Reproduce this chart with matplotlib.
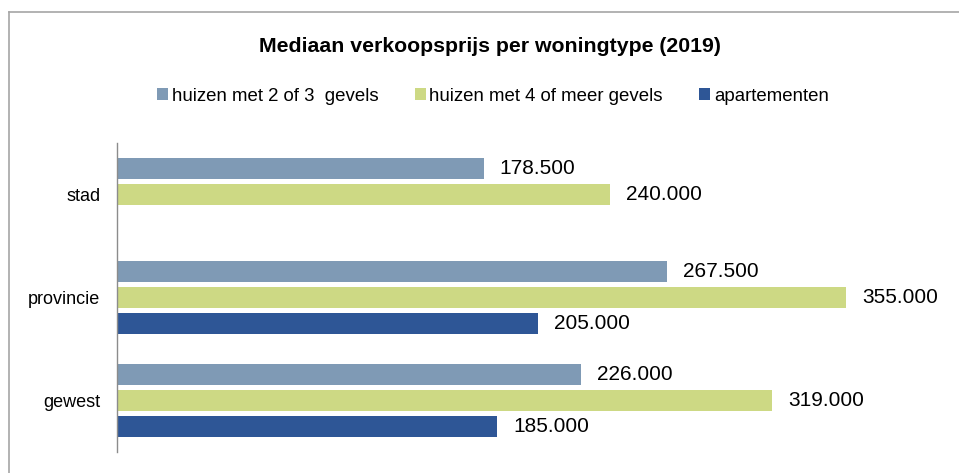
import numpy as np
import matplotlib
matplotlib.use('Agg')
import matplotlib.pyplot as plt
from matplotlib.lines import Line2D
from matplotlib.patches import Patch

plt.rcParams['font.family'] = ['Liberation Sans', 'DejaVu Sans']

regions = ['stad', 'provincie', 'gewest']
series_names = ['huizen met 2 of 3  gevels', 'huizen met 4 of meer gevels', 'apartementen']
huizen_2_3 = [178500, 267500, 226000]
huizen_4 = [240000, 355000, 319000]
apartementen = [np.nan, 205000, 185000]
colors = ['#7f9ab5', '#cdd984', '#2e5696']

fig = plt.figure(figsize=(9.59, 4.73), dpi=100)
ax = fig.add_axes([0.122, 0.0444, 0.857, 0.6533])

pos = np.arange(len(regions))
offsets = [-0.25, 0.0, 0.25]
height = 0.205

for vals, off, col in zip([huizen_2_3, huizen_4, apartementen], offsets, colors):
    for p, v in zip(pos, vals):
        if np.isnan(v):
            continue
        ax.barh(p + off, v, height=height, color=col)
        label = '{:,}'.format(int(v)).replace(',', '.')
        ax.annotate(label, (v, p + off), xytext=(16, 0), textcoords='offset pixels',
                    va='center', ha='left', fontsize=15)

ax.set_xlim(0, 400000)
ax.set_ylim(2.5, -0.5)
ax.set_yticks(pos)
ax.set_yticklabels(regions, fontsize=13)
ax.tick_params(axis='y', length=0, pad=12)
ax.set_xticks([])
for s in ['top', 'right', 'bottom']:
    ax.spines[s].set_visible(False)
ax.spines['left'].set_color('#8c8c8c')
ax.spines['left'].set_linewidth(1.0)

fig.text(0.511, 0.901, 'Mediaan verkoopsprijs per woningtype (2019)', ha='center', va='center',
         fontsize=15.3, fontweight='bold')

handles = [Patch(facecolor=c, edgecolor='none') for c in colors]
fig.legend(handles, series_names, loc='center', bbox_to_anchor=(0.514, 0.797), ncol=3,
           frameon=False, fontsize=13.4, handlelength=0.6, handleheight=0.6,
           handletextpad=0.2, columnspacing=1.95)

# outer chart frame (only top and left visible in the crop)
fig.add_artist(Line2D([8.5 / 959, 8.5 / 959], [0, 1 - 12 / 473], transform=fig.transFigure,
                      color='#a6a6a6', lw=1.2))
fig.add_artist(Line2D([8.5 / 959, 1], [1 - 12 / 473, 1 - 12 / 473], transform=fig.transFigure,
                      color='#a6a6a6', lw=1.2))

fig.savefig('out.png', dpi=100)
